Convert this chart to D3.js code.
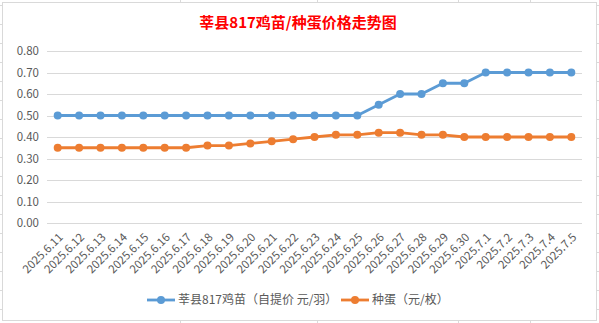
<!DOCTYPE html>
<html><head><meta charset="utf-8">
<script src="https://cdn.jsdelivr.net/npm/d3@7"></script>
<style>body{margin:0;background:#fff;}svg{display:block;}</style>
</head><body>
<script>
const categories = ["2025.6.11","2025.6.12","2025.6.13","2025.6.14","2025.6.15","2025.6.16","2025.6.17","2025.6.18","2025.6.19","2025.6.20","2025.6.21","2025.6.22","2025.6.23","2025.6.24","2025.6.25","2025.6.26","2025.6.27","2025.6.28","2025.6.29","2025.6.30","2025.7.1","2025.7.2","2025.7.3","2025.7.4","2025.7.5"];
const chickValues = [0.50,0.50,0.50,0.50,0.50,0.50,0.50,0.50,0.50,0.50,0.50,0.50,0.50,0.50,0.50,0.55,0.60,0.60,0.65,0.65,0.70,0.70,0.70,0.70,0.70];
const eggValues = [0.35,0.35,0.35,0.35,0.35,0.35,0.35,0.36,0.36,0.37,0.38,0.39,0.40,0.41,0.41,0.42,0.42,0.41,0.41,0.40,0.40,0.40,0.40,0.40,0.40];
const yTicks = [0,0.1,0.2,0.3,0.4,0.5,0.6,0.7,0.8];
const seriesNames = ["莘县817鸡苗（自提价 元/羽）","种蛋（元/枚）"];
const title = "莘县817鸡苗/种蛋价格走势图";

const W = 599, H = 323;
const font = "'Microsoft YaHei','Noto Sans CJK SC',sans-serif";
const svg = d3.select("body").append("svg").attr("width", W).attr("height", H);

// spreadsheet background grid
const bg = svg.append("g").attr("stroke", "#dadada").attr("stroke-width", 1);
d3.range(5, H, 19).forEach(y => bg.append("line").attr("x1",0).attr("x2",W).attr("y1",y+0.5).attr("y2",y+0.5));
[180, 317, 458, 530].forEach(x => bg.append("line").attr("x1",x+0.5).attr("x2",x+0.5).attr("y1",0).attr("y2",H));

// chart area
svg.append("rect").attr("x",2.5).attr("y",2.5).attr("width",594).attr("height",318)
  .attr("fill","#fff").attr("stroke","#d9d9d9").attr("stroke-width",1);

svg.append("text").attr("x",298).attr("y",28).attr("text-anchor","middle")
  .attr("font-family",font).attr("font-size",15).attr("font-weight","bold").attr("fill","#ff0000").text(title);

const x = d3.scaleBand().domain(categories).range([47, 582]);
const y = d3.scaleLinear().domain([0, 0.8]).range([223, 51]);

const grid = svg.append("g");
grid.selectAll("line").data(yTicks).join("line")
  .attr("x1",47).attr("x2",582)
  .attr("y1",d=>Math.round(y(d))+0.5).attr("y2",d=>Math.round(y(d))+0.5)
  .attr("stroke","#d9d9d9").attr("stroke-width",1);

const yAxis = d3.axisLeft(y).tickValues(yTicks).tickFormat(d3.format(".2f")).tickSize(0).tickPadding(0);
const ya = svg.append("g").attr("transform","translate(39,0)").call(yAxis);
ya.select(".domain").remove();
ya.selectAll("text").attr("font-family",font).attr("font-size",11.5).attr("fill","#595959");

const xAxis = d3.axisBottom(x).tickSize(0).tickPadding(0);
const xa = svg.append("g").attr("transform","translate(0,223)").call(xAxis);
xa.select(".domain").remove();
xa.selectAll("text").attr("font-family",font).attr("font-size",11.5).attr("fill","#595959")
  .attr("text-anchor","end").attr("dy",0).attr("y",0)
  .attr("transform","translate(6,15) rotate(-45)");

const series = [
  {name: seriesNames[0], values: chickValues, color: "#5b9bd5"},
  {name: seriesNames[1], values: eggValues, color: "#ed7d31"}
];
const line = d3.line().x((d,i)=>x(categories[i]) + x.bandwidth()/2).y(d=>y(d));
series.forEach(s => {
  svg.append("path").datum(s.values).attr("d", line).attr("fill","none")
    .attr("stroke", s.color).attr("stroke-width", 2.8).attr("stroke-linejoin","round");
  svg.append("g").selectAll("circle").data(s.values).join("circle")
    .attr("cx",(d,i)=>x(categories[i]) + x.bandwidth()/2).attr("cy",d=>y(d)).attr("r",4)
    .attr("fill", s.color);
});

// legend
const legendPos = [147, 341];
series.forEach((s,i) => {
  const g = svg.append("g").attr("transform",`translate(${legendPos[i]},300)`);
  g.append("line").attr("x1",0).attr("x2",28).attr("y1",0).attr("y2",0).attr("stroke",s.color).attr("stroke-width",2.8);
  g.append("circle").attr("cx",14).attr("cy",0).attr("r",4).attr("fill",s.color);
  g.append("text").attr("x",31).attr("y",0).attr("dy","0.35em").attr("font-family",font)
    .attr("font-size",12).attr("fill","#595959").text(s.name);
});
</script>
</body></html>
